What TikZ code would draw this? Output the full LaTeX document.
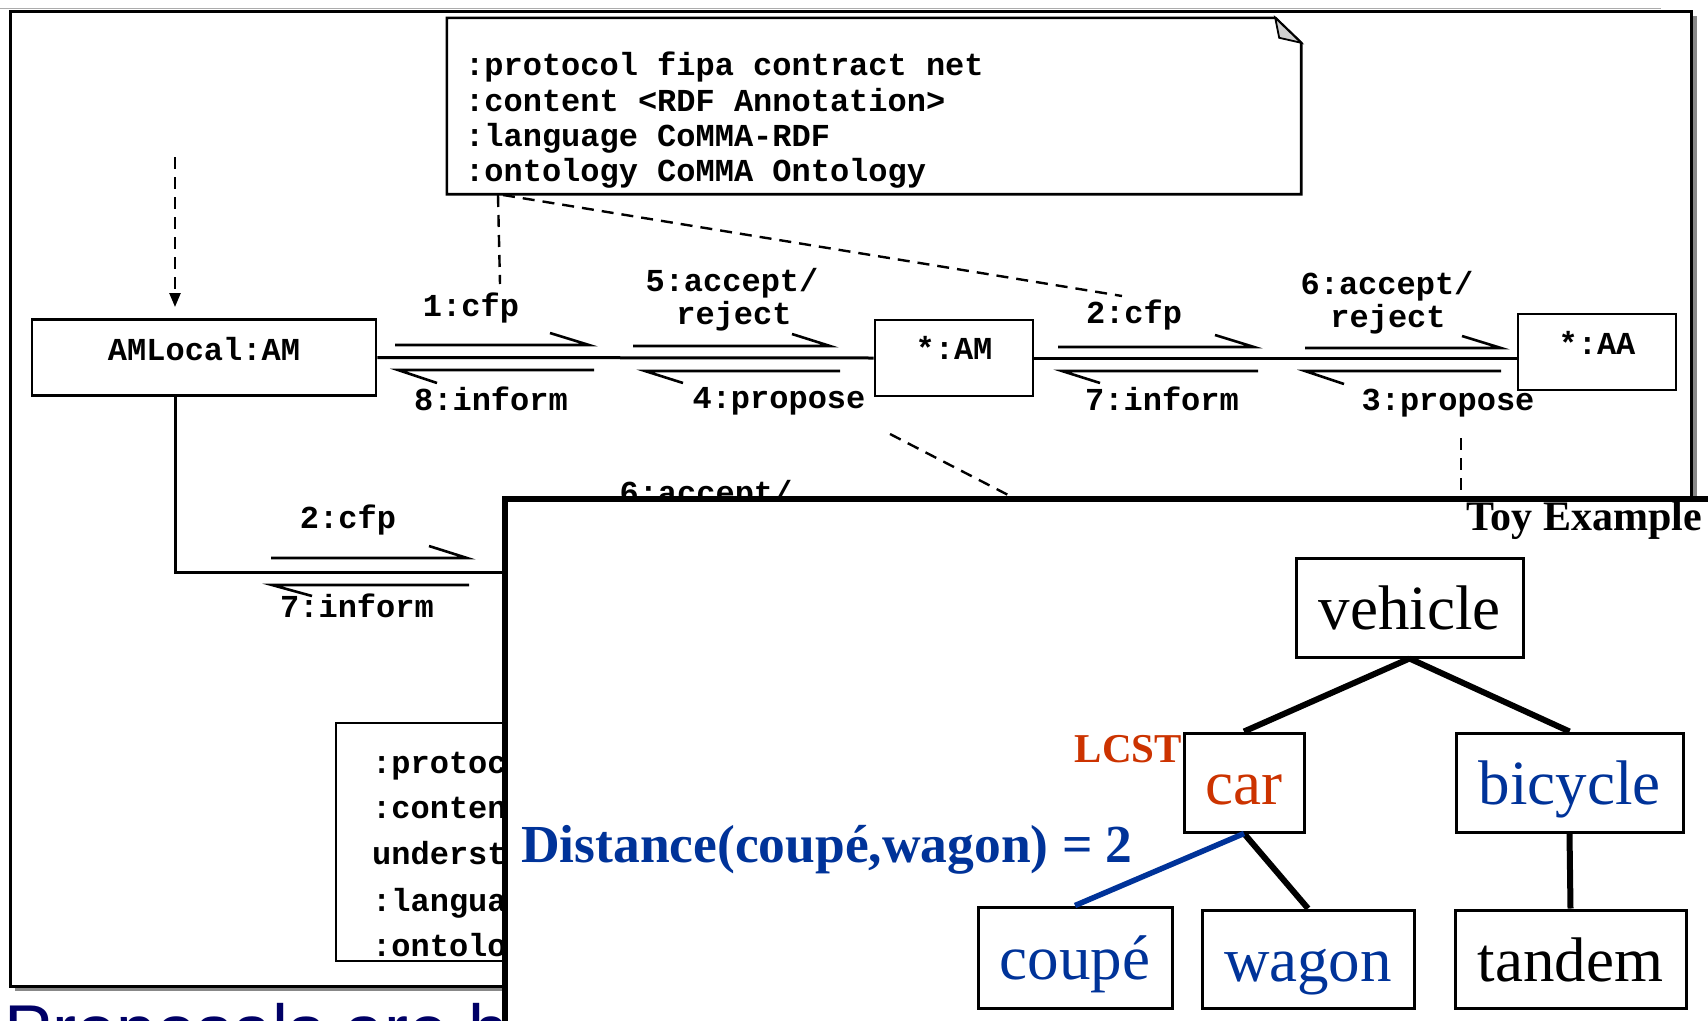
\documentclass[tikz,border=0pt]{standalone}
\usepackage{fontspec}
\setmainfont{Liberation Serif}
\newfontfamily\courfont{Liberation Mono}
\newfontfamily\arialfont{Liberation Sans}
\usetikzlibrary{arrows.meta}
\definecolor{tblue}{RGB}{0,51,153}
\definecolor{tred}{RGB}{204,51,0}
\definecolor{navy}{RGB}{0,0,102}
\definecolor{foldgray}{RGB}{208,208,208}
\definecolor{shadowgray}{RGB}{136,136,136}
\begin{document}
\begin{tikzpicture}[x=1pt,y=-1pt,
  mono/.style={font=\courfont\bfseries\fontsize{32}{36}\selectfont},
  lbl/.style={mono, inner sep=0pt, anchor=base},
  notetxt/.style={mono, inner sep=0pt, anchor=base west},
  umlbox/.style={draw, line width=2.6pt, mono, inner sep=0pt, text height=21pt, text depth=20pt, minimum height=76pt},
  conn/.style={line width=3pt},
  msg/.style={line width=2.6pt},
  dsh/.style={line width=2.4pt, dash pattern=on 12pt off 8pt},
  tbox/.style={draw, line width=3pt, inner sep=0pt, font=\fontsize{63}{70}\selectfont, text height=54pt, text depth=10pt, minimum height=99pt},
  tline/.style={line width=6pt},
]
\useasboundingbox (0,0) rectangle (1708,1020);
\clip (0,0) rectangle (1708,1020);
\fill[white] (0,0) rectangle (1708,1020);

% top thin line and frame with shadow
\draw[shadowgray!70, line width=1.5pt] (0,8.5) -- (1661,8.5);
\fill[shadowgray] (15,16) rectangle (1697,991);
\draw[line width=3pt, fill=white] (10,11) rectangle (1691,986);

% bottom slide text (partly hidden)
\node[font=\arialfont\fontsize{72}{80}\selectfont, text=navy, inner sep=0pt, anchor=base west] (proposals) at (4,1055) {Proposals are b};

% note box (top)
\node[minimum width=854pt, minimum height=176pt, inner sep=0pt] (note) at (874,106) {};
\draw[line width=2.6pt, fill=white] (note.north west) -- ([xshift=-26pt]note.north east) -- ([yshift=-25pt]note.north east) -- (note.south east) -- (note.south west) -- cycle;
\draw[line width=1.8pt, fill=foldgray] ([xshift=-26pt]note.north east) -- ([xshift=-22pt,yshift=-20pt]note.north east) -- ([yshift=-25pt]note.north east) -- cycle;
\node[notetxt] (nl1) at (465,75) {:protocol fipa contract net};
\node[notetxt] (nl2) at (465,111) {:content <RDF Annotation>};
\node[notetxt] (nl3) at (465,146) {:language CoMMA-RDF};
\node[notetxt] (nl4) at (465,181) {:ontology CoMMA Ontology};

% UML boxes
\node[umlbox, minimum width=344pt, text depth=15.5pt] (amlocal) at (204,357.5) {AMLocal:AM};
\node[umlbox, minimum width=158pt, text depth=18pt] (am) at (954,358) {*:AM};
\node[umlbox, minimum width=158pt, text depth=16pt] (aa) at (1597,352) {*:AA};

% connectors
\draw[conn] (amlocal.east) -- (am.west);
\draw[conn] (am.east) -- (am.east -| aa.west);
\coordinate (lowturn) at (175,572);
\coordinate (lowend) at (520,572);
\draw[conn] (amlocal.south -| lowturn) -- (lowturn) -- (lowend);
\coordinate (dstart) at (175,157);
\coordinate (dend) at (175,307);
\draw[dsh, -{Triangle[length=14pt,width=11pt]}] (dstart) -- (dend);

% dashed note anchors
\coordinate (na) at (498,195);
\coordinate (nae) at (500,284);
\coordinate (nb) at (503,195);
\coordinate (nbe) at (1122,296);
\draw[dsh] (na) -- (nae);
\draw[dsh] (nb) -- (nbe);
\coordinate (nc) at (890,434);
\coordinate (nce) at (1012,497);
\draw[dsh] (nc) -- (nce);
\coordinate (nd) at (1461,438);
\coordinate (nde) at (1461,497);
\draw[dsh] (nd) -- (nde);

% message arrows (upper, pointing right)
\draw[msg] (395,345) -- (589,345) -- (550,333);
\draw[msg] (633,346) -- (830,346) -- (792,334);
\draw[msg] (1058,347) -- (1254,347) -- (1215,335);
\draw[msg] (1305,348) -- (1501,348) -- (1462,336);
\draw[msg] (271,558) -- (467,558) -- (429,546);
% message arrows (lower, pointing left)
\draw[msg] (594,370) -- (398,370) -- (437,383);
\draw[msg] (840,371) -- (645,371) -- (683,383);
\draw[msg] (1258,371) -- (1062,371) -- (1100,383);
\draw[msg] (1501,371) -- (1305,371) -- (1344,384);
\draw[msg] (469,585) -- (272,585) -- (312,596);

% message labels
\node[lbl] (l1) at (471,316) {1:cfp};
\node[lbl] (l8) at (491,410) {8:inform};
\node[lbl] (l5a) at (732,291) {5:accept/};
\node[lbl] (l5b) at (734,324) {reject};
\node[lbl] (l4) at (779,408) {4:propose};
\node[lbl] (l2) at (1134,323) {2:cfp};
\node[lbl] (l7) at (1162,410) {7:inform};
\node[lbl] (l6a) at (1387,294) {6:accept/};
\node[lbl] (l6b) at (1388,327) {reject};
\node[lbl] (l3) at (1448,410) {3:propose};
\node[lbl] (l2b) at (348,528) {2:cfp};
\node[lbl] (l7b) at (357,617) {7:inform};
\node[lbl] (l6c) at (706,503) {6:accept/};

% second note (partly hidden)
\node[draw, line width=2.6pt, fill=white, minimum width=364pt, minimum height=238pt, inner sep=0pt] (note2) at (518,842) {};
\node[notetxt] (m1) at (372,773) {:protoc};
\node[notetxt] (m2) at (372,818) {:conten};
\node[notetxt] (m3) at (372,864) {underst};
\node[notetxt] (m4) at (372,911) {:langua};
\node[notetxt] (m5) at (372,956) {:ontolo};

% Toy example panel
\node[draw, line width=6pt, fill=white, anchor=north west, minimum width=1300pt, minimum height=600pt, inner sep=0pt] (panel) at (502,496) {};
\node[font=\bfseries\fontsize{42}{48}\selectfont, inner sep=0pt, anchor=base east] (toy) at (1702,530) {Toy Example};

\node[tbox, minimum width=227pt] (vehicle) at (1409.5,607.5) {vehicle};
\node[tbox, minimum width=120pt, text=tred] (car) at (1244,782.5) {car};
\node[tbox, minimum width=227pt, text=tblue] (bicycle) at (1569.5,782.5) {bicycle};
\node[tbox, minimum width=194pt, minimum height=101pt, text=tblue] (coupe) at (1075,957.5) {coupé};
\node[tbox, minimum width=212pt, minimum height=98pt, text=tblue] (wagon) at (1308,959) {wagon};
\node[tbox, minimum width=231pt, minimum height=98pt] (tandem) at (1570.5,959) {tandem};

\draw[tline] (vehicle.south) -- (car.north);
\draw[tline] (vehicle.south) -- (bicycle.north);
\draw[tline] (car.south) -- (wagon.north);
\draw[tline] (bicycle.south) -- (tandem.north);
\draw[tline, tblue, line width=5.5pt] (car.south) -- (coupe.north);

\node[font=\bfseries\fontsize{41}{46}\selectfont, text=tred, inner sep=0pt, anchor=base east] (lcst) at (1182,762) {LCST};
\node[font=\bfseries\fontsize{53.5}{60}\selectfont, text=tblue, inner sep=0pt, anchor=base west] (dist) at (521,862) {Distance(coupé,wagon) = 2};
\end{tikzpicture}
\end{document}
